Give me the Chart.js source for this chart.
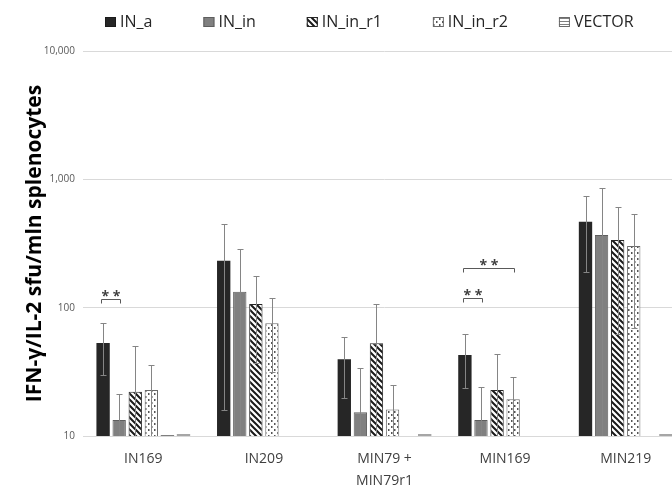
<!DOCTYPE html>
<html><head><meta charset="utf-8">
<script src="https://cdn.jsdelivr.net/npm/chart.js@4.4.1/dist/chart.umd.min.js"></script>
<style>
html,body{margin:0;padding:0;background:#fff;overflow:hidden;width:672px;height:487px}
#wrap{position:relative;width:686px;height:487px}
</style>
</head><body><div id="wrap"><canvas id="c" width="686" height="487"></canvas></div>
<script>
// ---- data ----
const categories = ['IN169', 'IN209', ['MIN79 +', 'MIN79r1'], 'MIN169', 'MIN219'];
const seriesNames = ['IN_a', 'IN_in', 'IN_in_r1', 'IN_in_r2', 'VECTOR', ''];
const inA      = [53, 232, 39.6, 42.8, 468];
const inAErr   = [23, 216, 20, 19, 278];
const inIn     = [13.3, 133, 15.3, 13.3, 369];
const inInErr  = [8, 152, 18.4, 11, 482];
const inR1     = [22.1, 107, 52.7, 22.8, 337];
const inR1Err  = [28.5, 70, 55, 21, 275];
const inR2     = [22.8, 75.5, 16.1, 19.3, 303];
const inR2Err  = [13, 44, 9, 9.7, 234];
const vector   = [10, null, null, null, null];
const extra    = [10, null, 10, null, 10];
const yTicks   = [10, 100, 1000, 10000];
const yTitle   = 'IFN-γ/IL-2 sfu/mln splenocytes';
// significance brackets: category index, from series, to series, height (y value), label
const brackets = [
  {cat: 0, from: 0, to: 1, value: 117, label: '* *'},
  {cat: 3, from: 0, to: 1, value: 120, label: '* *'},
  {cat: 3, from: 0, to: 3, value: 204, label: '* *'}
];

// ---- patterns ----
function makePattern(w, h, draw) {
  const c = document.createElement('canvas');
  c.width = w; c.height = h;
  const g = c.getContext('2d');
  draw(g, w, h);
  return g.createPattern(c, 'repeat');
}
const diagPattern = makePattern(6, 6, (g, w, h) => {
  g.fillStyle = '#fff'; g.fillRect(0, 0, w, h);
  g.strokeStyle = '#1a1a1a'; g.lineWidth = 2;
  g.beginPath();
  for (let k = -1; k <= 1; k++) { g.moveTo(k * w - 1, -1); g.lineTo(k * w + w + 1, h + 1); }
  g.stroke();
});
const dotPattern = makePattern(6, 6, (g, w, h) => {
  g.fillStyle = '#fff'; g.fillRect(0, 0, w, h);
  g.fillStyle = '#555';
  g.fillRect(1, 0, 1.5, 2);
  g.fillRect(4, 3, 1.5, 2);
});
const hLinePattern = makePattern(4, 3, (g, w, h) => {
  g.fillStyle = '#fff'; g.fillRect(0, 0, w, h);
  g.fillStyle = '#7f7f7f'; g.fillRect(0, 0, w, 1);
});

// ---- plugins ----
const errorBarPlugin = {
  id: 'errorBars',
  afterDatasetsDraw(chart) {
    const ctx = chart.ctx, ys = chart.scales.y, a = chart.chartArea;
    ctx.save();
    ctx.beginPath(); ctx.rect(a.left, a.top, a.right - a.left, a.bottom - a.top); ctx.clip();
    ctx.strokeStyle = '#858585'; ctx.lineWidth = 1;
    chart.data.datasets.forEach((ds, i) => {
      if (!ds.errors) return;
      const meta = chart.getDatasetMeta(i);
      ds.data.forEach((v, j) => {
        const e = ds.errors[j];
        if (v == null || e == null) return;
        const x = Math.round(meta.data[j].x) + 0.5;
        const top = Math.round(ys.getPixelForValue(v + e)) + 0.5;
        const low = v - e;
        const bot = low > 0 ? Math.round(ys.getPixelForValue(low)) + 0.5 : a.bottom + 10;
        ctx.beginPath();
        ctx.moveTo(x, top); ctx.lineTo(x, bot);
        ctx.moveTo(x - 3, top); ctx.lineTo(x + 3, top);
        if (low > ys.min) { ctx.moveTo(x - 3, bot); ctx.lineTo(x + 3, bot); }
        ctx.stroke();
      });
    });
    ctx.restore();
  }
};
const bracketPlugin = {
  id: 'brackets',
  afterDatasetsDraw(chart) {
    const ctx = chart.ctx, ys = chart.scales.y;
    ctx.save();
    ctx.strokeStyle = '#595959'; ctx.lineWidth = 1;
    ctx.fillStyle = '#404040';
    ctx.font = 'bold 14px "Open Sans"';
    ctx.textAlign = 'center'; ctx.textBaseline = 'alphabetic';
    brackets.forEach(b => {
      const x1 = Math.round(chart.getDatasetMeta(b.from).data[b.cat].x - 2) + 0.5;
      const x2 = Math.round(chart.getDatasetMeta(b.to).data[b.cat].x + 1) + 0.5;
      const yy = Math.round(ys.getPixelForValue(b.value)) + 0.5;
      ctx.beginPath();
      ctx.moveTo(x1, yy + 4); ctx.lineTo(x1, yy); ctx.lineTo(x2, yy); ctx.lineTo(x2, yy + 4);
      ctx.stroke();
      ctx.fillText(b.label, (x1 + x2) / 2, yy + 1);
    });
    ctx.restore();
  }
};
const legendPlugin = {
  id: 'customLegend',
  afterDraw(chart, args, opts) {
    const ctx = chart.ctx;
    ctx.save();
    ctx.font = '16px "Open Sans"';
    ctx.textBaseline = 'middle'; ctx.textAlign = 'left';
    let x = opts.x;
    chart.data.datasets.forEach(ds => {
      if (!ds.label) return;
      ctx.fillStyle = ds.backgroundColor;
      ctx.fillRect(x, opts.y - 5, 11, 10);
      ctx.strokeStyle = ds.legendBorder || ds.borderColor || '#262626';
      ctx.lineWidth = 1;
      ctx.strokeRect(x + 0.5, opts.y - 4.5, 10, 9);
      ctx.fillStyle = '#262626';
      ctx.fillText(ds.label, x + 15, opts.y + 0.7);
      x += 15 + ctx.measureText(ds.label).width + opts.gap;
    });
    ctx.restore();
  }
};

Chart.defaults.font.family = "'Open Sans', sans-serif";

new Chart(document.getElementById('c'), {
  type: 'bar',
  data: {
    labels: categories,
    datasets: [
      {label: seriesNames[0], data: inA, errors: inAErr, backgroundColor: '#262626', borderColor: '#1a1a1a', borderWidth: 0},
      {label: seriesNames[1], data: inIn, errors: inInErr, backgroundColor: '#808080', borderColor: '#5e5e5e', borderWidth: 1},
      {label: seriesNames[2], data: inR1, errors: inR1Err, backgroundColor: diagPattern, borderColor: '#262626', borderWidth: 1},
      {label: seriesNames[3], data: inR2, errors: inR2Err, backgroundColor: dotPattern, borderColor: '#6a6a6a', borderWidth: 1},
      {label: seriesNames[4], data: vector, backgroundColor: hLinePattern, legendBorder: '#6a6a6a', borderWidth: 0, minBarLength: 2},
      {label: seriesNames[5], data: extra, backgroundColor: '#a6a6a6', borderWidth: 0, minBarLength: 2}
    ]
  },
  options: {
    responsive: false,
    animation: false,
    devicePixelRatio: 1,
    layout: {padding: {top: 51, left: 0, right: 0, bottom: 0}},
    datasets: {bar: {categoryPercentage: 0.8, barPercentage: 0.83}},
    plugins: {
      legend: {display: false},
      tooltip: {enabled: false},
      customLegend: {x: 105, y: 22, gap: 51}
    },
    scales: {
      x: {
        grid: {display: false},
        border: {display: false},
        ticks: {color: '#404040', font: {size: 14, lineHeight: 1.55}, padding: 4, maxRotation: 0, autoSkip: false},
        afterFit(s) { s.height = 51; }
      },
      y: {
        type: 'logarithmic',
        min: 10, max: 10000,
        border: {display: false},
        grid: {color: '#d9d9d9', drawTicks: false, lineWidth: 1},
        afterBuildTicks(s) { s.ticks = yTicks.map(v => ({value: v})); },
        ticks: {
          color: '#595959', font: {size: 10}, padding: 8,
          callback: v => Number(v).toLocaleString('en-US')
        },
        title: {display: true, text: yTitle, color: '#000', font: {size: 21, weight: 'bold'}, padding: {top: 22, bottom: 0}},
        afterFit(s) { s.width = 83; }
      }
    }
  },
  plugins: [errorBarPlugin, bracketPlugin, legendPlugin]
});
</script>
</body></html>
